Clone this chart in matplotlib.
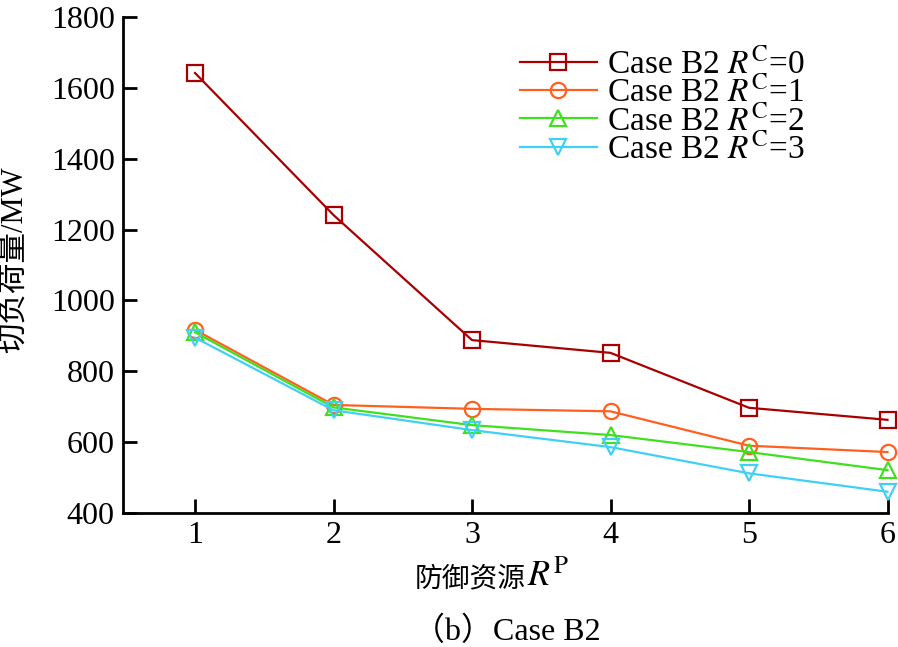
import matplotlib
matplotlib.use("Agg")
import matplotlib.pyplot as plt

plt.rcParams['font.family'] = ['Liberation Serif', 'Noto Sans CJK SC']
plt.rcParams['mathtext.fontset'] = 'stix'

x = [1, 2, 3, 4, 5, 6]
rc0 = [1642, 1241, 888, 852, 697, 663]
rc1 = [917, 705, 694, 687, 590, 572]
rc2 = [910, 698, 648, 620, 572, 521]
rc3 = [895, 690, 634, 586, 512, 460]
labels = ['Case B2 $R^{\\mathrm{C}}$=0', 'Case B2 $R^{\\mathrm{C}}$=1',
          'Case B2 $R^{\\mathrm{C}}$=2', 'Case B2 $R^{\\mathrm{C}}$=3']
yticks = [400, 600, 800, 1000, 1200, 1400, 1600, 1800]

colors = ['#A80000', '#FF6020', '#40E020', '#40D0F5']
markers = ['s', 'o', '^', 'v']

W, H = 898, 647
fig = plt.figure(figsize=(W / 100, H / 100), dpi=100)
ax = fig.add_axes([123 / W, 1 - 513 / H, (887.5 - 123) / W, (513 - 17) / H])

for ys, c, m, lab in zip([rc0, rc1, rc2, rc3], colors, markers, labels):
    ax.plot(x, ys, color=c, marker=m, markersize=11, markerfacecolor='none',
            markeredgecolor=c, markeredgewidth=1.6, linewidth=1.6, label=lab,
            clip_on=False)

ax.set_xlim(0.48, 6.0)
ax.set_ylim(400, 1800)
ax.set_xticks(x)
ax.set_yticks(yticks)
ax.tick_params(direction='in', length=10, width=2, labelsize=23, pad=6)
for s in ['top', 'right']:
    ax.spines[s].set_visible(False)
for s in ['left', 'bottom']:
    ax.spines[s].set_linewidth(2)

fig.text(14 / W, 1 - 260 / H, '切负荷量/MW', fontsize=22, rotation=90,
         ha='center', va='center')
fig.text(526 / W, 1 - 580 / H, '防御资源', fontsize=20, ha='right', va='center')
fig.text(527 / W, 1 - 577 / H, '$R^{\\mathrm{P}}$', fontsize=26, ha='left', va='center')
fig.text(507 / W, 1 - 632 / H, '（b）Case B2', ha='center', va='center', fontsize=23)

leg = ax.legend(loc='upper right', bbox_to_anchor=(0.922, 0.985), frameon=False,
                fontsize=24, labelspacing=-0.13, handlelength=2.3,
                handletextpad=0.3, borderpad=0.2)

fig.savefig('out.png', dpi=100)
